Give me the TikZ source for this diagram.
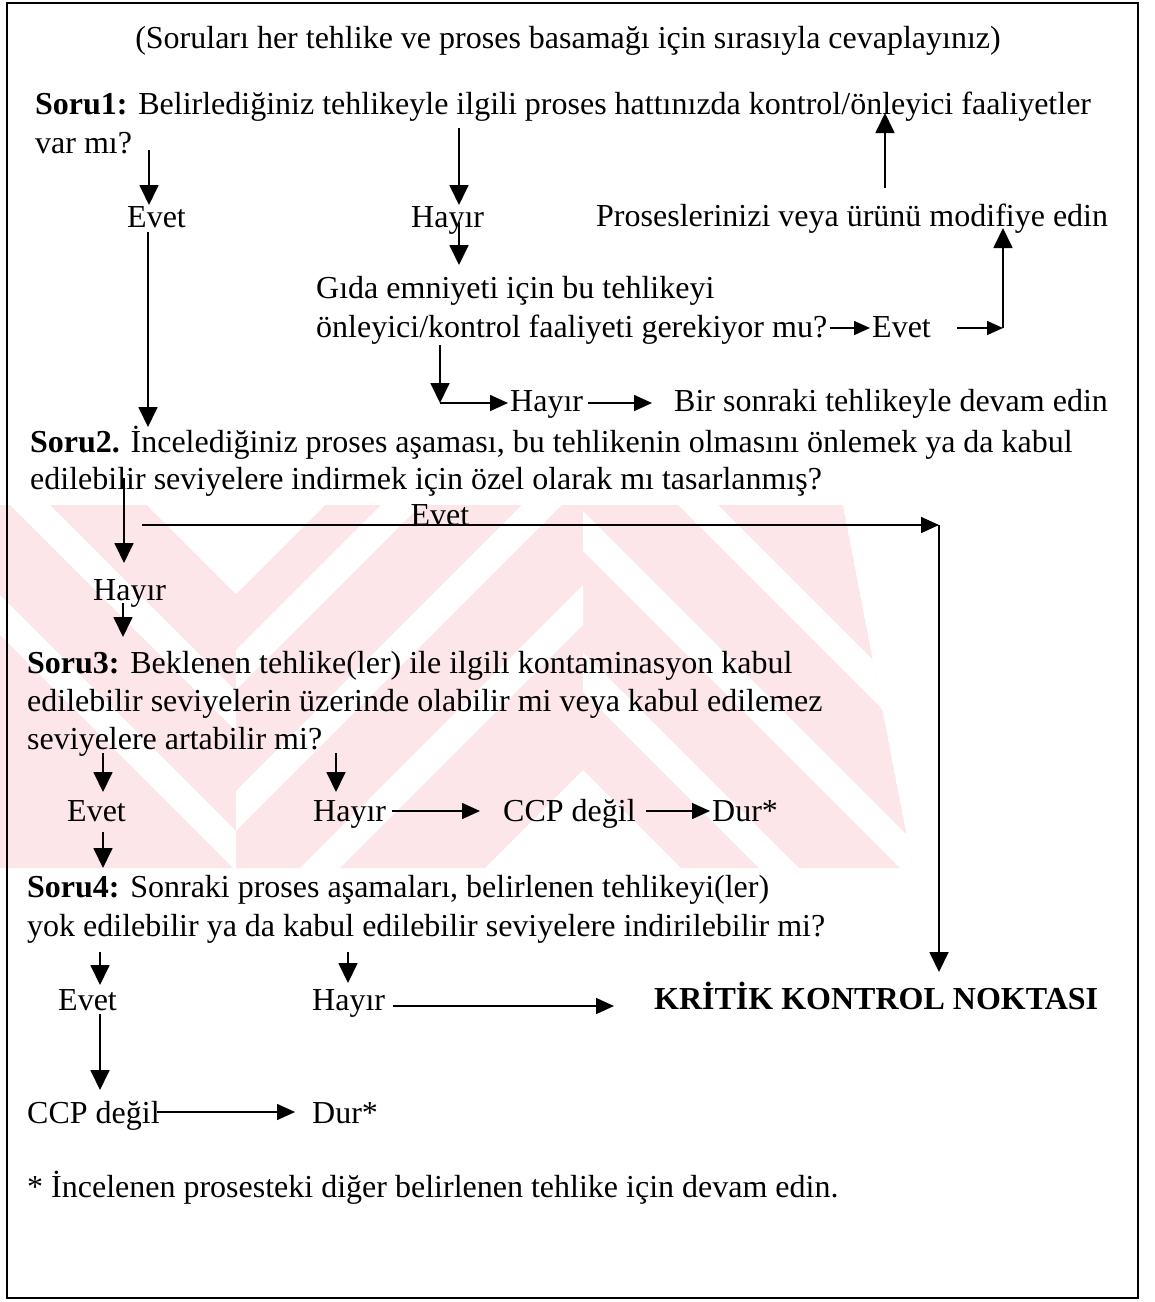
\documentclass[tikz,border=0pt]{standalone}
\usepackage{fontspec}
\setmainfont{Liberation Serif}
\usetikzlibrary{arrows.meta}
\definecolor{wm}{RGB}{252,230,234}
\begin{document}
\begin{tikzpicture}[x=1pt,y=-1pt,
  font=\fontsize{32}{38}\selectfont,
  txt/.style={inner sep=0pt, anchor=base west},
  varr/.style={line width=1.8pt, -{Triangle[length=20pt,width=19pt]}},
  harr/.style={line width=1.6pt, -{Triangle[length=18pt,width=16pt]}},
  sarr/.style={line width=1.6pt, -{Triangle[length=16pt,width=14pt]}},
  plain/.style={line width=1.8pt}]
\useasboundingbox (0,0) rectangle (1155,1302);
\fill[white] (0,0) rectangle (1155,1302);

% ---- watermark ----
\begin{scope}
  \clip (0,505) -- (843,505) -- (913,868) -- (0,868) -- cycle;
  \fill[wm] (0,505) -- (843,505) -- (913,868) -- (0,868) -- cycle;
  \fill[white] (147,505) -- (236,594) -- (325,505) -- cycle;
  \fill[white] (583,770) -- (485,868) -- (681,868) -- cycle;
  \begin{scope}
    \clip (0,505) rectangle (236,868);
    \draw[white,line width=28pt] (-50,425) -- (450,925);
    \draw[white,line width=28pt] (-50,565) -- (350,965);
  \end{scope}
  \begin{scope}
    \clip (236,505) rectangle (583,868);
    \draw[white,line width=28pt] (200,706) -- (600,306);
    \draw[white,line width=28pt] (200,847) -- (600,447);
    \draw[white,line width=28pt] (200,988) -- (600,588);
  \end{scope}
  \begin{scope}
    \clip (583,505) rectangle (920,868);
    \draw[white,line width=28pt] (550,639) -- (1000,1089);
    \draw[white,line width=28pt] (550,498) -- (1000,948);
    \draw[white,line width=28pt] (550,357) -- (1000,807);
  \end{scope}
\end{scope}

% ---- frame ----
\draw[line width=2.5pt] (7,3) rectangle (1138,1298);

% ---- texts ----
\node[txt, anchor=base] (title) at (568,48) {(Soruları her tehlike ve proses basamağı için sırasıyla cevaplayınız)};
\node[txt] (s1a) at (35,114) {\textbf{Soru1:} Belirlediğiniz tehlikeyle ilgili proses hattınızda kontrol/önleyici faaliyetler};
\node[txt] (s1b) at (35,153) {var mı?};
\node[txt] (e1) at (127,227) {Evet};
\node[txt] (h1) at (411,227) {Hayır};
\node[txt] (mod) at (596,226) {Proseslerinizi veya ürünü modifiye edin};
\node[txt] (q1a) at (316,298) {Gıda emniyeti için bu tehlikeyi};
\node[txt] (q1b) at (316,337) {önleyici/kontrol faaliyeti gerekiyor mu?};
\node[txt] (e1b) at (872,337) {Evet};
\node[txt] (h1b) at (510,411) {Hayır};
\node[txt] (next) at (674,411) {Bir sonraki tehlikeyle devam edin};
\node[txt] (s2a) at (30,452) {\textbf{Soru2.} İncelediğiniz proses aşaması, bu tehlikenin olmasını önlemek ya da kabul};
\node[txt] (s2b) at (30,489) {edilebilir seviyelere indirmek için özel olarak mı tasarlanmış?};
\node[txt, anchor=base] (e2) at (440,525) {Evet};
\node[txt] (h2) at (93,600) {Hayır};
\node[txt] (s3a) at (27,673) {\textbf{Soru3:} Beklenen tehlike(ler) ile ilgili kontaminasyon kabul};
\node[txt] (s3b) at (27,711) {edilebilir seviyelerin üzerinde olabilir mi veya kabul edilemez};
\node[txt] (s3c) at (27,749) {seviyelere artabilir mi?};
\node[txt] (e3) at (67,821) {Evet};
\node[txt] (h3) at (313,821) {Hayır};
\node[txt] (ccp3) at (503,821) {CCP değil};
\node[txt] (dur3) at (712,821) {Dur*};
\node[txt] (s4a) at (27,897) {\textbf{Soru4:} Sonraki proses aşamaları, belirlenen tehlikeyi(ler)};
\node[txt] (s4b) at (27,936) {yok edilebilir ya da kabul edilebilir seviyelere indirilebilir mi?};
\node[txt] (e4) at (58,1010) {Evet};
\node[txt] (h4) at (312,1010) {Hayır};
\node[txt] (kkn) at (654,1009) {\textbf{KRİTİK KONTROL NOKTASI}};
\node[txt] (ccp4) at (27,1123) {CCP değil};
\node[txt] (dur4) at (312,1123) {Dur*};
\node[txt] (foot) at (27,1197) {* İncelenen prosesteki diğer belirlenen tehlike için devam edin.};

% ---- connector end points ----
\coordinate (a1s) at (149,150);  \coordinate (a1e) at (149,205);
\coordinate (a2s) at (459,128);  \coordinate (a2e) at (459,205);
\coordinate (a3s) at (885,188);  \coordinate (a3e) at (885,113);
\coordinate (a4s) at (459,222);  \coordinate (a4e) at (459,265);
\coordinate (a5s) at (148,232);  \coordinate (a5e) at (148,427);
\coordinate (a6s) at (440,345);  \coordinate (a6c) at (440,403);
\coordinate (a6e) at (508,403);
\coordinate (a7s) at (588,403);  \coordinate (a7e) at (652,403);
\coordinate (a8s) at (830,328);  \coordinate (a8e) at (870,328);
\coordinate (a9s) at (957,328);  \coordinate (a9c) at (1003,328);
\coordinate (a9e) at (1003,228);
\coordinate (b1s) at (124,478);  \coordinate (b1e) at (124,563);
\coordinate (b2s) at (142,525);  \coordinate (b2c) at (939,525);
\coordinate (b2e) at (939,972);
\coordinate (b3s) at (123,603);  \coordinate (b3e) at (123,637);
\coordinate (c1s) at (103,753);  \coordinate (c1e) at (103,792);
\coordinate (c2s) at (336,753);  \coordinate (c2e) at (336,792);
\coordinate (c3s) at (392,811);  \coordinate (c3e) at (480,811);
\coordinate (c4s) at (646,811);  \coordinate (c4e) at (710,811);
\coordinate (c5s) at (103,832);  \coordinate (c5e) at (103,868);
\coordinate (d1s) at (100,952);  \coordinate (d1e) at (100,985);
\coordinate (d2s) at (348,952);  \coordinate (d2e) at (348,983);
\coordinate (d3s) at (393,1006); \coordinate (d3e) at (614,1006);
\coordinate (d4s) at (100,1014); \coordinate (d4e) at (100,1090);
\coordinate (d5s) at (157,1112); \coordinate (d5e) at (295,1112);

% ---- connectors ----
\draw[varr] (a1s) -- (a1e);
\draw[varr] (a2s) -- (a2e);
\draw[varr] (a3s) -- (a3e);
\draw[varr] (a4s) -- (a4e);
\draw[varr] (a5s) -- (a5e);
\draw[varr] (a6s) -- (a6c);
\draw[harr] (a6c) -- (a6e);
\draw[harr] (a7s) -- (a7e);
\draw[sarr] (a8s) -- (a8e);
\draw[sarr] (a9s) -- (a9c);
\draw[varr] (a9c) -- (a9e);
\draw[varr] (b1s) -- (b1e);
\draw[harr] (b2s) -- (b2c);
\draw[varr] (b2c) -- (b2e);
\draw[varr] (b3s) -- (b3e);
\draw[varr] (c1s) -- (c1e);
\draw[varr] (c2s) -- (c2e);
\draw[harr] (c3s) -- (c3e);
\draw[harr] (c4s) -- (c4e);
\draw[varr] (c5s) -- (c5e);
\draw[varr] (d1s) -- (d1e);
\draw[varr] (d2s) -- (d2e);
\draw[harr] (d3s) -- (d3e);
\draw[varr] (d4s) -- (d4e);
\draw[harr] (d5s) -- (d5e);
\end{tikzpicture}
\end{document}
